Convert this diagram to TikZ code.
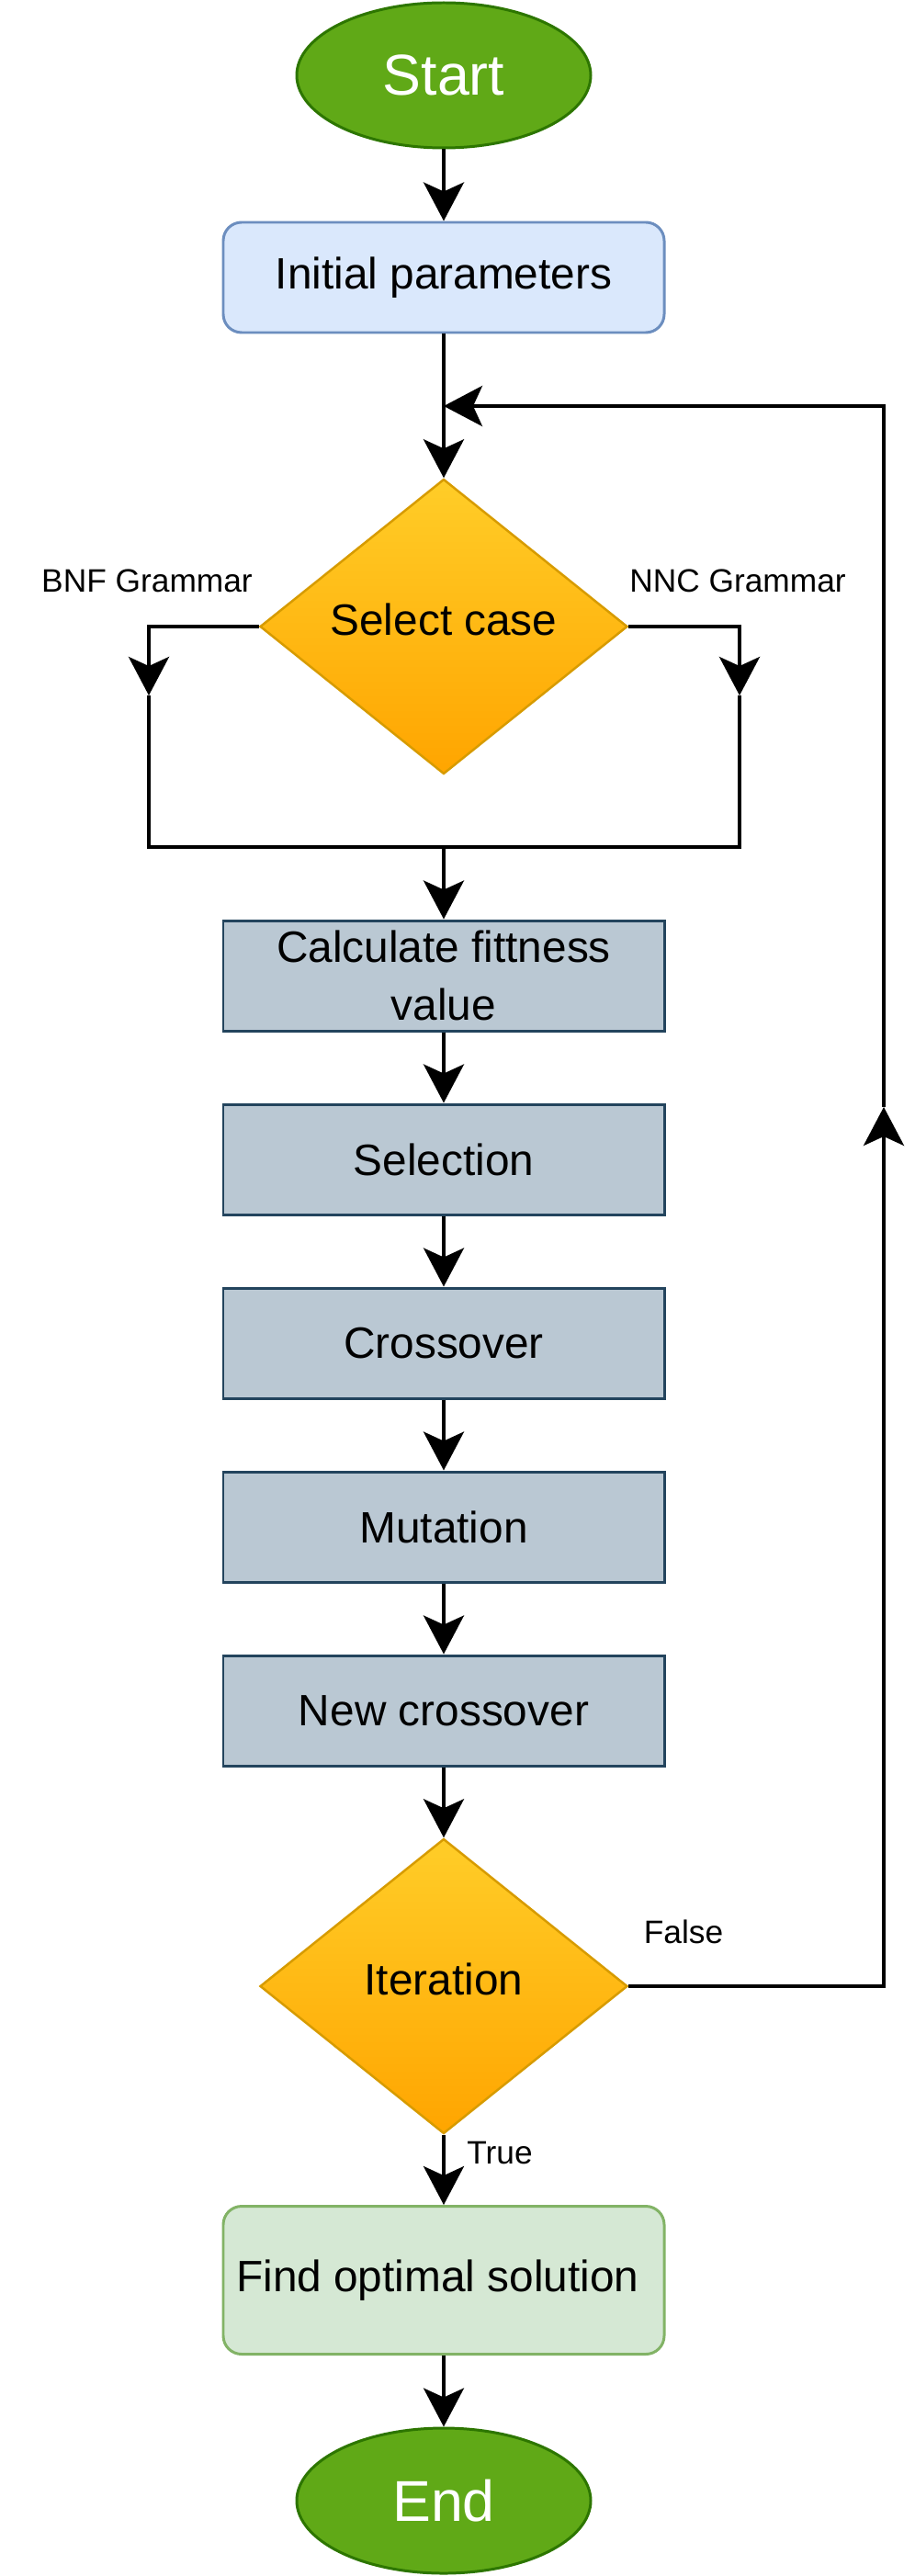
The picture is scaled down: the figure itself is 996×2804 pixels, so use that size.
\documentclass[tikz,border=0pt]{standalone}
\usepackage{fontspec}
\setmainfont{Liberation Sans}
\usetikzlibrary{arrows.meta,shapes.geometric}
\definecolor{termfill}{HTML}{60A917}
\definecolor{termdraw}{HTML}{2D7600}
\definecolor{initfill}{HTML}{DAE8FC}
\definecolor{initdraw}{HTML}{6C8EBF}
\definecolor{procfill}{HTML}{BAC8D3}
\definecolor{procdraw}{HTML}{23445D}
\definecolor{endfill}{HTML}{D5E8D4}
\definecolor{enddraw}{HTML}{82B366}
\definecolor{dectop}{HTML}{FFCD28}
\definecolor{decbot}{HTML}{FFA500}
\definecolor{decdraw}{HTML}{D79B00}
\newcommand{\bigtxt}{\fontsize{35.7}{42}\selectfont}
\newcommand{\midtxt}{\fontsize{27.2}{35.7}\selectfont}
\newcommand{\smalltxt}{\fontsize{20.1}{24}\selectfont}
\newcommand{\lift}[1]{\raisebox{0.32cm}{#1}}
\begin{document}
\begin{tikzpicture}[x=0.02cm, y=-0.02cm,
    >={Stealth[length=0.84cm, width=0.88cm, inset=0.2cm]},
    flow/.style={line width=2.3pt, ->},
    link/.style={line width=2.3pt},
    term/.style={ellipse, draw=termdraw, fill=termfill, line width=1.7pt,
        minimum width=320*0.02cm, minimum height=158*0.02cm, text=white, font=\bigtxt},
    proc/.style={rectangle, draw=procdraw, fill=procfill, line width=1.7pt,
        minimum width=480*0.02cm, minimum height=120*0.02cm, align=center, font=\midtxt},
    decide/.style={diamond, draw=decdraw, top color=dectop, bottom color=decbot, line width=1.4pt,
        minimum width=400*0.02cm, minimum height=321*0.02cm, inner sep=0pt, font=\midtxt},
    tag/.style={font=\smalltxt}]
    \useasboundingbox (0,0) rectangle (996,2804);
    % blocks
    \node[term] (start) at (483,82) {Start};
    \node[proc, rounded corners=0.4cm, draw=initdraw, fill=initfill] (init) at (483,302) {Initial parameters};
    \node[decide] (sel) at (483,682) {\lift{Select case}};
    \node[proc] (calc) at (483,1062) {Calculate fittness\\value};
    \node[proc] (selc) at (483,1262) {Selection};
    \node[proc] (cross) at (483,1462) {Crossover};
    \node[proc] (mut) at (483,1662) {Mutation};
    \node[proc] (newc) at (483,1862) {New crossover};
    \node[decide] (iter) at (483,2162) {\lift{Iteration}};
    \node[proc, rounded corners=0.4cm, draw=enddraw, fill=endfill, minimum height=161*0.02cm] (find) at (483,2482) {Find optimal solution\ };
    \node[term] (stop) at (483,2722) {End};
    % labels
    \node[tag] (bnflab) at (160,632) {BNF Grammar};
    \node[tag] (nnclab) at (803,632) {NNC Grammar};
    \node[tag] (falselab) at (744,2103) {False};
    \node[tag] (truelab) at (544,2343) {True};
    % bends
    \coordinate (bnf) at (162,757);
    \coordinate (nnc) at (805,757);
    \coordinate (join) at (483,922);
    \coordinate (up) at (962,1205);
    \coordinate (back) at (483,442);
    % connectors
    \draw[flow] (start) -- (init);
    \draw[flow] (init) -- (sel);
    \draw[flow] (sel.west) -| (bnf);
    \draw[flow] (sel.east) -| (nnc);
    \draw[link] (bnf) |- (join) -| (nnc);
    \draw[flow] (join) -- (calc);
    \draw[flow] (calc) -- (selc);
    \draw[flow] (selc) -- (cross);
    \draw[flow] (cross) -- (mut);
    \draw[flow] (mut) -- (newc);
    \draw[flow] (newc) -- (iter);
    \draw[flow] (iter.east) -| (up);
    \draw[flow] (up) |- (back);
    \draw[flow] (iter) -- (find);
    \draw[flow] (find) -- (stop);
\end{tikzpicture}
\end{document}
